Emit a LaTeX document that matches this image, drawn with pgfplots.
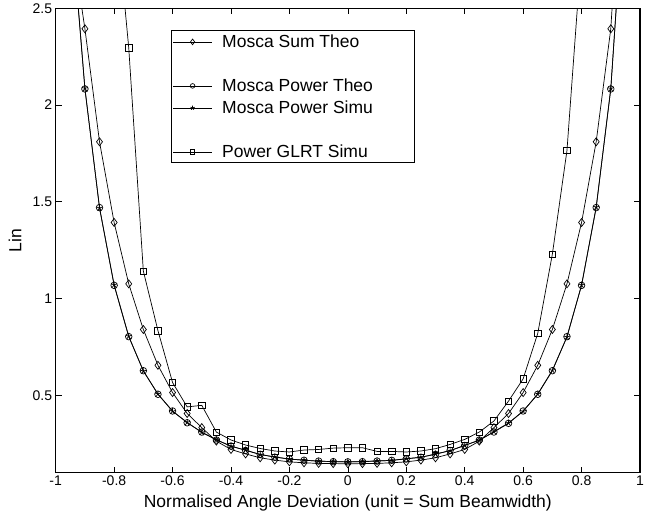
\documentclass[border=0pt]{standalone}
\usepackage{pgfplots}
\pgfplotsset{compat=1.18}
\usepackage{fontspec}
\setmainfont{Liberation Sans}

% Mosca Sum Theo
\pgfplotstableread{
x y
-0.95 2.90
-0.90 2.394
-0.85 1.81
-0.80 1.393
-0.75 1.076
-0.70 0.840
-0.65 0.655
-0.60 0.514
-0.55 0.406
-0.50 0.333
-0.45 0.263
-0.40 0.220
-0.35 0.197
-0.30 0.177
-0.25 0.165
-0.20 0.156
-0.15 0.151
-0.10 0.148
-0.05 0.147
0.00 0.146
0.05 0.147
0.10 0.148
0.15 0.151
0.20 0.156
0.25 0.165
0.30 0.177
0.35 0.197
0.40 0.220
0.45 0.263
0.50 0.333
0.55 0.406
0.60 0.514
0.65 0.655
0.70 0.840
0.75 1.076
0.80 1.393
0.85 1.81
0.90 2.394
0.95 3.60
}\sumtheo

% Mosca Power Theo
\pgfplotstableread{
x y
-0.95 3.00
-0.90 2.083
-0.85 1.470
-0.80 1.068
-0.75 0.803
-0.70 0.627
-0.65 0.505
-0.60 0.419
-0.55 0.358
-0.50 0.310
-0.45 0.269
-0.40 0.238
-0.35 0.215
-0.30 0.195
-0.25 0.180
-0.20 0.171
-0.15 0.164
-0.10 0.160
-0.05 0.157
0.00 0.156
0.05 0.157
0.10 0.160
0.15 0.164
0.20 0.171
0.25 0.180
0.30 0.195
0.35 0.215
0.40 0.240
0.45 0.269
0.50 0.310
0.55 0.355
0.60 0.419
0.65 0.505
0.70 0.627
0.75 0.803
0.80 1.068
0.85 1.470
0.90 2.083
0.95 3.20
}\powtheo

% Mosca Power Simu
\pgfplotstableread{
x y
-0.95 3.01
-0.90 2.086
-0.85 1.468
-0.80 1.071
-0.75 0.805
-0.70 0.625
-0.65 0.507
-0.60 0.417
-0.55 0.360
-0.50 0.308
-0.45 0.271
-0.40 0.236
-0.35 0.217
-0.30 0.193
-0.25 0.182
-0.20 0.170
-0.15 0.165
-0.10 0.159
-0.05 0.158
0.00 0.155
0.05 0.158
0.10 0.161
0.15 0.163
0.20 0.173
0.25 0.179
0.30 0.197
0.35 0.213
0.40 0.242
0.45 0.267
0.50 0.312
0.55 0.357
0.60 0.417
0.65 0.507
0.70 0.629
0.75 0.801
0.80 1.070
0.85 1.472
0.90 2.085
0.95 3.21
}\powsimu

% Power GLRT Simu
\pgfplotstableread{
x y
-0.80 3.10
-0.75 2.296
-0.70 1.142
-0.65 0.834
-0.60 0.566
-0.55 0.440
-0.50 0.448
-0.45 0.310
-0.40 0.269
-0.35 0.243
-0.30 0.225
-0.25 0.212
-0.20 0.207
-0.15 0.217
-0.10 0.220
-0.05 0.227
0.00 0.229
0.05 0.229
0.10 0.210
0.15 0.210
0.20 0.207
0.25 0.212
0.30 0.224
0.35 0.246
0.40 0.272
0.45 0.310
0.50 0.367
0.55 0.470
0.60 0.585
0.65 0.820
0.70 1.229
0.75 1.765
0.80 2.80
}\glrt

\newcommand{\legtext}[1]{\makebox[191pt][l]{#1}}

\begin{document}
\begin{tikzpicture}
\begin{axis}[
  at={(0pt,0pt)}, anchor=south west,
  scale only axis,
  width=584.3pt, height=464.4pt,
  xmin=-1, xmax=1, ymin=0.1, ymax=2.5,
  xtick={-1,-0.8,-0.6,-0.4,-0.2,0,0.2,0.4,0.6,0.8,1},
  ytick={0.5,1,1.5,2,2.5},
  tick align=inside,
  major tick length=6pt,
  tick style={black, line width=0.6pt},
  axis line style={line width=1.2pt},
  /pgf/number format/assume math mode=true,
  ticklabel style={font=\fontsize{14}{16}\selectfont},
  label style={font=\fontsize{17.5}{21}\selectfont},
  xlabel={Normalised Angle Deviation (unit = Sum Beamwidth)},
  ylabel={Lin},
  xlabel style={at={(axis description cs:0.5,-0.0646)}, anchor=center},
  ylabel style={at={(axis description cs:-0.0697,0.5)}, anchor=center},
  every axis plot/.append style={black, line width=0.7pt},
  legend cell align=left,
  legend style={
    at={(0.1973,0.9526)}, anchor=north west,
    draw=black, line width=1.2pt,
    inner xsep=1pt, inner ysep=0pt,
    column sep=10pt,
    font=\fontsize{17.5}{21}\selectfont,
    nodes={inner sep=0pt, text height=16.8pt, text depth=5.2pt},
  },
  legend image code/.code={
    \draw[mark repeat=2, mark phase=2, line width=0.7pt, #1, every mark/.append style={scale=0.7}]
      plot coordinates {(0.7pt,0pt) (20pt,0pt) (39.3pt,0pt)};
  },
]
\addplot[mark=diamond, mark size=4pt] table[x=x,y=y] {\sumtheo};
\addlegendentry{\legtext{Mosca Sum Theo}}
\addlegendimage{empty legend}
\addlegendentry{}
\addplot[mark=o, mark size=3.3pt] table[x=x,y=y] {\powtheo};
\addlegendentry{\legtext{Mosca Power Theo}}
\addplot[mark=star, mark size=3.3pt] table[x=x,y=y] {\powsimu};
\addlegendentry{\legtext{Mosca Power Simu}}
\addlegendimage{empty legend}
\addlegendentry{}
\addplot[mark=square, mark size=3.2pt] table[x=x,y=y] {\glrt};
\addlegendentry{\legtext{Power GLRT Simu}}
\end{axis}
\path (-55.7pt,-43.3pt) rectangle (606.3pt,471.7pt);
\end{tikzpicture}
\end{document}
